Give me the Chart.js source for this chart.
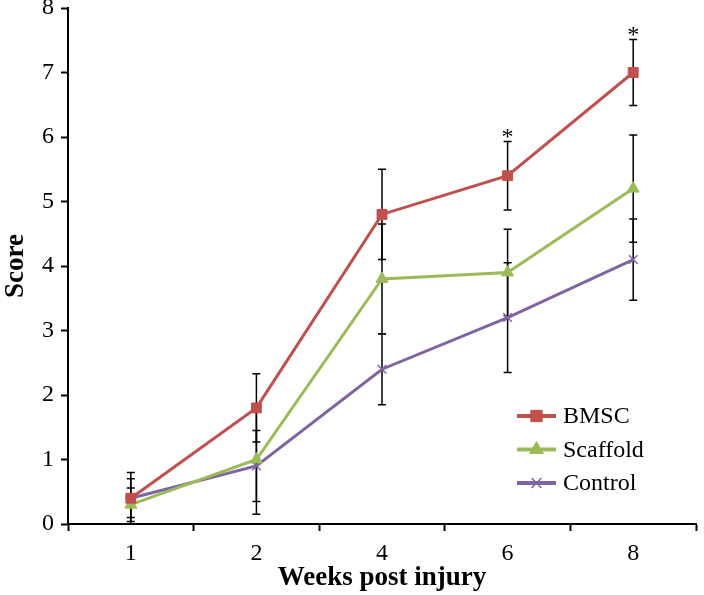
<!DOCTYPE html>
<html>
<head>
<meta charset="utf-8">
<script src="https://cdn.jsdelivr.net/npm/chart.js@4.4.0/dist/chart.umd.min.js"></script>
<style>
  html, body { margin: 0; padding: 0; background: #fff; }
</style>
</head>
<body>
<canvas id="scoreChart" width="704" height="595"></canvas>
<script>
// DADOS

const weeks = ['1', '2', '4', '6', '8'];

const bmsc = [0.4, 1.8, 4.8, 5.4, 7.0];
const scaffold = [0.3, 1.0, 3.8, 3.9, 5.2];
const control = [0.4, 0.9, 2.4, 3.2, 4.1];

// desvio (barra de erro, +/-)
const bmscErr = [0.4, 0.53, 0.7, 0.53, 0.51];
const scaffoldErr = [0.26, 0.85, 0.85, 0.67, 0.83];
const controlErr = [0.3, 0.55, 0.55, 0.85, 0.63];

// asterisco de significancia (BMSC)
const bmscSignif = ['', '', '', '*', '*'];

const yTicks = [0, 1, 2, 3, 4, 5, 6, 7, 8];

const serif = '"Liberation Serif", "Times New Roman", serif';

// BARRAS DE ERRO + ASTERISCOS

const errorBars = {
    id: 'errorBars',
    beforeDatasetsDraw(chart) {
        const { ctx, scales: { x, y } } = chart;
        ctx.save();
        ctx.strokeStyle = '#000';
        ctx.lineWidth = 1.5;
        chart.data.datasets.forEach(ds => {
            ds.data.forEach((v, i) => {
                const px = x.getPixelForValue(i);
                const top = y.getPixelForValue(v + ds.errors[i]);
                const bot = y.getPixelForValue(Math.max(0, v - ds.errors[i]));
                ctx.beginPath();
                ctx.moveTo(px, top); ctx.lineTo(px, bot);
                ctx.moveTo(px - 4, top); ctx.lineTo(px + 4, top);
                ctx.moveTo(px - 4, bot); ctx.lineTo(px + 4, bot);
                ctx.stroke();
            });
        });
        ctx.restore();
    },
    afterDatasetsDraw(chart) {
        const { ctx, scales: { x, y } } = chart;
        ctx.save();
        ctx.fillStyle = '#000';
        ctx.font = '24px ' + serif;
        ctx.textAlign = 'center';
        ctx.textBaseline = 'middle';
        bmscSignif.forEach((s, i) => {
            if (!s) return;
            const px = x.getPixelForValue(i);
            const top = y.getPixelForValue(bmsc[i] + bmscErr[i]);
            ctx.fillText(s, px, top - 4);
        });
        ctx.restore();
    }
};

// LEGENDA (linha grossa + marcador)

const lineLegend = {
    id: 'lineLegend',
    afterDraw(chart) {
        const { ctx } = chart;
        ctx.save();
        ctx.font = '24px ' + serif;
        ctx.textBaseline = 'middle';
        chart.data.datasets.forEach((ds, i) => {
            const yy = 416 + i * 33.5;
            ctx.strokeStyle = ds.borderColor;
            ctx.lineWidth = 4;
            ctx.beginPath();
            ctx.moveTo(517, yy); ctx.lineTo(556, yy);
            ctx.stroke();
            ctx.fillStyle = ds.pointBackgroundColor;
            ctx.lineWidth = ds.pointBorderWidth || 1;
            Chart.helpers.drawPoint(ctx, {
                pointStyle: ds.pointStyle,
                radius: ds.pointRadius + 1,
                borderWidth: ds.pointBorderWidth || 1,
                rotation: 0
            }, 536.5, yy);
            ctx.fillStyle = '#000';
            ctx.fillText(ds.label, 563, yy + 1);
        });
        ctx.restore();
    }
};

// GRÁFICO

const ctx = document.getElementById('scoreChart');

const scoreChart = new Chart(ctx, {

    type: 'line',

    data: {

        labels: weeks,

        datasets: [{
            label: 'BMSC',
            data: bmsc,
            errors: bmscErr,
            borderColor: '#c0504d',
            backgroundColor: '#c0504d',
            pointBackgroundColor: '#c0504d',
            pointBorderColor: '#c0504d',
            pointStyle: 'rect',
            pointRadius: 7,
            pointBorderWidth: 1,
            borderWidth: 3,
            tension: 0
        }, {
            label: 'Scaffold',
            data: scaffold,
            errors: scaffoldErr,
            borderColor: '#9bbb59',
            backgroundColor: '#9bbb59',
            pointBackgroundColor: '#9bbb59',
            pointBorderColor: '#9bbb59',
            pointStyle: 'triangle',
            pointRadius: 7,
            pointBorderWidth: 1,
            borderWidth: 3,
            tension: 0
        }, {
            label: 'Control',
            data: control,
            errors: controlErr,
            borderColor: '#8064a2',
            backgroundColor: '#8064a2',
            pointBackgroundColor: '#8064a2',
            pointBorderColor: '#8064a2',
            pointStyle: 'crossRot',
            pointRadius: 6,
            pointBorderWidth: 1.5,
            borderWidth: 3,
            tension: 0
        }]

    },

    options: {

        responsive: false,
        animation: false,
        devicePixelRatio: 1,

        layout: { padding: { top: 8, right: 3, left: 0, bottom: 0 } },

        plugins: {
            legend: { display: false },
            tooltip: { enabled: false }
        },

        scales: {

            x: {
                type: 'category',
                offset: true,
                afterFit: s => { s.height = 71; s.paddingLeft = 0; s.paddingRight = 0; },
                border: { display: true, color: '#000', width: 2 },
                grid: {
                    display: true,
                    offset: true,
                    drawOnChartArea: false,
                    drawTicks: true,
                    tickLength: 7,
                    tickColor: '#000',
                    tickWidth: 2
                },
                ticks: {
                    color: '#000',
                    padding: 8,
                    font: { family: serif, size: 24 }
                },
                title: {
                    display: true,
                    text: 'Weeks post injury',
                    color: '#000',
                    padding: { top: 0, bottom: 1 },
                    font: { family: serif, size: 27, weight: 'bold' }
                }
            },

            y: {
                min: 0,
                max: 8,
                afterFit: s => { s.width = 68; s.paddingTop = 0; s.paddingBottom = 0; },
                afterBuildTicks: s => { s.ticks = yTicks.map(v => ({ value: v })); },
                border: { display: true, color: '#000', width: 2 },
                grid: {
                    display: true,
                    drawOnChartArea: false,
                    drawTicks: true,
                    tickLength: 7,
                    tickColor: '#000',
                    tickWidth: 2
                },
                ticks: {
                    color: '#000',
                    padding: 7,
                    font: { family: serif, size: 24 }
                },
                title: {
                    display: true,
                    text: 'Score',
                    color: '#000',
                    padding: { top: 0, bottom: 0 },
                    font: { family: serif, size: 27, weight: 'bold' }
                }
            }

        }

    },

    plugins: [errorBars, lineLegend]

});
</script>
</body>
</html>
